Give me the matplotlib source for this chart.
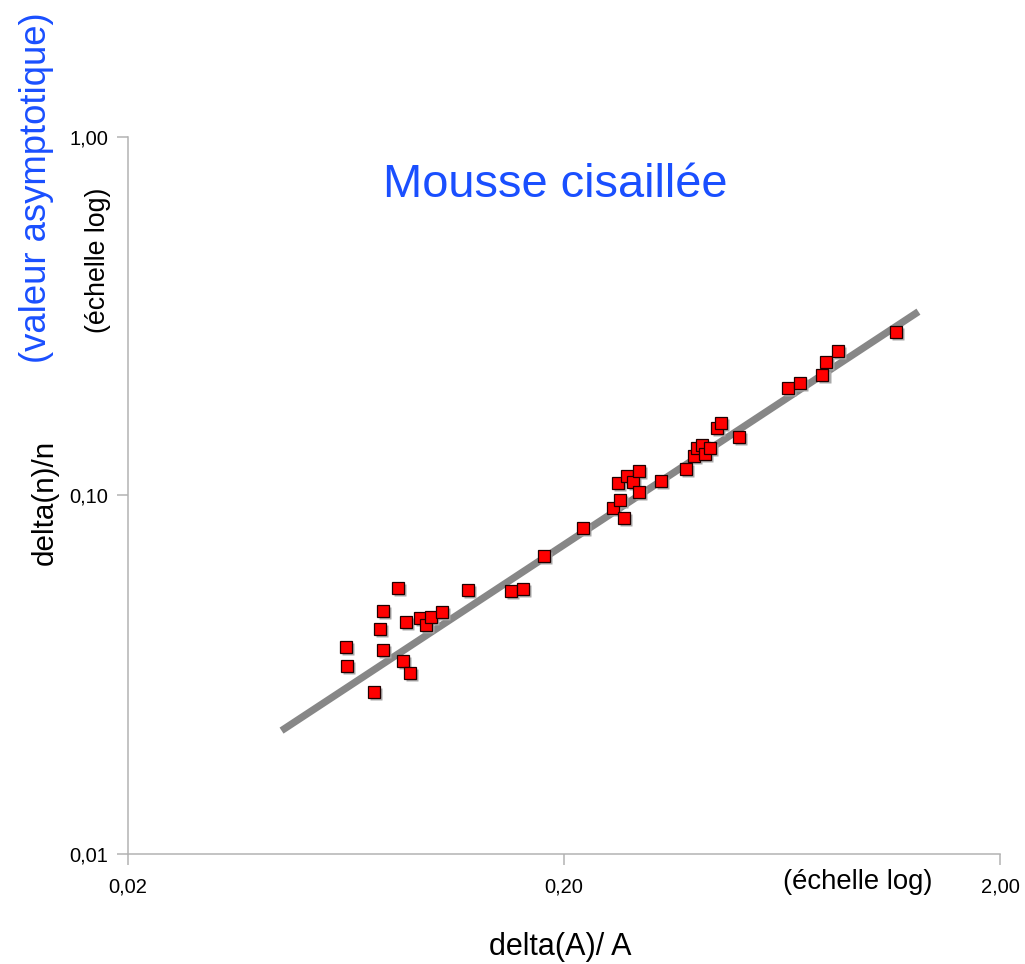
import numpy as np
import matplotlib
matplotlib.use("Agg")
import matplotlib.pyplot as plt
import matplotlib.transforms as mtransforms

plt.rcParams['font.family'] = ['Liberation Sans', 'DejaVu Sans']

# ---- data ----
delta_A = [0.0632, 0.0636, 0.0733, 0.0757, 0.0770, 0.0770, 0.0834, 0.0853, 0.0867, 0.0887,
           0.0935, 0.0965, 0.0991, 0.1049, 0.1207, 0.1511, 0.1608, 0.1802, 0.2214, 0.2587,
           0.2656, 0.2688, 0.2750, 0.2794, 0.2884, 0.2972, 0.2972, 0.3333, 0.3810, 0.3974,
           0.4044, 0.4138, 0.4212, 0.4324, 0.4480, 0.4576, 0.5032, 0.654, 0.695, 0.783,
           0.797, 0.849, 1.153]
delta_n = [0.0379, 0.0335, 0.0283, 0.0425, 0.0477, 0.0371, 0.0551, 0.0345, 0.0445, 0.0319,
           0.0455, 0.0435, 0.0459, 0.0474, 0.0545, 0.0543, 0.0548, 0.0678, 0.0813, 0.0921,
           0.1081, 0.0971, 0.0864, 0.1133, 0.1093, 0.1170, 0.1021, 0.1097, 0.1183, 0.1289,
           0.1354, 0.1383, 0.1302, 0.1359, 0.1539, 0.1596, 0.1453, 0.1999, 0.2056, 0.2168,
           0.2361, 0.2534, 0.2858]

# power-law trend line y = coef * x ** exponent (as drawn in the reference)
trend_coef = 0.264
trend_exponent = 0.80
trend_range = [0.045, 1.30]

x_ticks = [0.02, 0.2, 2.0]
x_ticklabels = ["0,02", "0,20", "2,00"]
y_ticks = [0.01, 0.1, 1.0]
y_ticklabels = ["0,01", "0,10", "1,00"]

title = "Mousse cisaillée"
blue = "#1a4fff"
axis_gray = "#b3b3b3"

W, H = 1025, 964
fig = plt.figure(figsize=(W / 100, H / 100), dpi=100)
ax = fig.add_axes([128 / W, 1 - 854 / H, (1000 - 128) / W, (854 - 137) / H])

ax.set_xscale('log')
ax.set_yscale('log')
ax.set_xlim(0.02, 2.0)
ax.set_ylim(0.01, 1.0)

tx = np.array(trend_range)
ty = trend_coef * tx ** trend_exponent
ax.plot(tx, ty, color='#878787', lw=5.2, solid_capstyle='butt', zorder=2)

# shadows of markers
shadow = mtransforms.offset_copy(ax.transData, fig=fig, x=1.5, y=-1.5, units='points')
ax.plot(delta_A, delta_n, ls='none', marker='s', ms=8.6, color='#a8a8a8',
        mec='none', transform=shadow, zorder=3)
ax.plot(delta_A, delta_n, ls='none', marker='s', ms=8.6, mfc='#ff0000',
        mec='#200000', mew=0.9, zorder=4)

ax.set_xticks(x_ticks)
ax.set_xticklabels(x_ticklabels)
ax.set_yticks(y_ticks)
ax.set_yticklabels(y_ticklabels)
ax.minorticks_off()
ax.tick_params(axis='both', which='major', direction='out', length=8, width=1.1,
               color=axis_gray, labelsize=14.5, labelcolor='black')
ax.tick_params(axis='x', pad=9)
ax.tick_params(axis='y', pad=6)

for s in ['top', 'right']:
    ax.spines[s].set_visible(False)
for s in ['left', 'bottom']:
    ax.spines[s].set_color(axis_gray)
    ax.spines[s].set_linewidth(1.1)

def fx(px):
    return px / W

def fy(py):
    return 1 - py / H

fig.text(fx(555), fy(197), title, color=blue, fontsize=33.8, ha='center', va='baseline')
fig.text(fx(37), fy(187.5), "(valeur asymptotique)", color=blue, fontsize=26.3,
         rotation=90, ha='center', va='center')
fig.text(fx(98), fy(260), "(échelle log)", color='black', fontsize=19.3,
         rotation=90, ha='center', va='center')
fig.text(fx(45), fy(502), "delta(n)/n", color='black', fontsize=21.3,
         rotation=90, ha='center', va='center')
fig.text(fx(560), fy(955), "delta(A)/ A", color='black', fontsize=22, ha='center', va='baseline')
fig.text(fx(858), fy(889), "(échelle log)", color='black', fontsize=19.8, ha='center', va='baseline')

fig.savefig("out.png", dpi=100, facecolor='white')
